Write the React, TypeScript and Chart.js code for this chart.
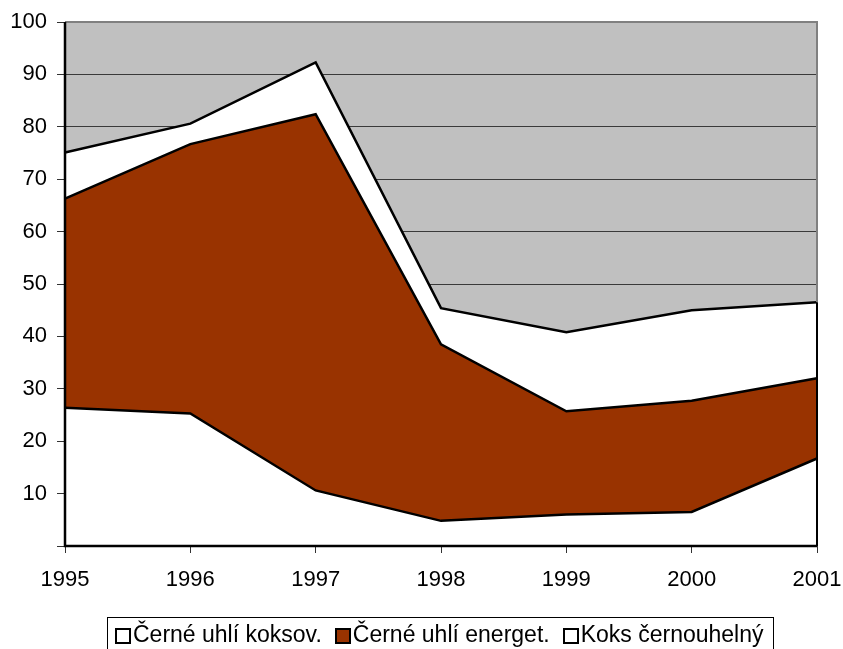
import React, { useEffect, useRef } from "react";
import { Chart, registerables } from "chart.js";
Chart.register(...registerables);

const years = ["1995", "1996", "1997", "1998", "1999", "2000", "2001"];
const koksov = [26.4, 25.3, 10.6, 4.8, 6.0, 6.5, 16.7];
const energet = [39.9, 51.4, 71.8, 33.7, 19.7, 21.2, 15.3];
const koks = [8.8, 3.9, 9.9, 6.9, 15.1, 17.3, 14.5];
const seriesNames = ["Černé uhlí koksov.", "Černé uhlí energet.", "Koks černouhelný"];
const seriesColors = ["#ffffff", "#993300", "#ffffff"];

const FONT = "'Liberation Sans', Arial, sans-serif";

const plotFrame = {
  id: "plotFrame",
  beforeDraw(chart: any) {
    const { ctx, chartArea: a } = chart;
    ctx.save();
    ctx.fillStyle = "#c0c0c0";
    ctx.fillRect(a.left, a.top, a.right - a.left, a.bottom - a.top);
    ctx.restore();
  },
  afterDatasetsDraw(chart: any) {
    const { ctx, chartArea: a } = chart;
    const y = chart.scales.y;
    const last = years.length - 1;
    const topLast = y.getPixelForValue(koksov[last] + energet[last] + koks[last]);
    ctx.save();
    ctx.lineWidth = 2;
    ctx.strokeStyle = "#808080";
    ctx.beginPath();
    ctx.moveTo(a.left, a.top);
    ctx.lineTo(a.right, a.top);
    ctx.lineTo(a.right, topLast);
    ctx.stroke();
    ctx.strokeStyle = "#000000";
    ctx.beginPath();
    ctx.moveTo(a.right, topLast);
    ctx.lineTo(a.right, a.bottom);
    ctx.stroke();
    ctx.lineWidth = 2.5;
    ctx.beginPath();
    ctx.moveTo(a.left, a.top);
    ctx.lineTo(a.left, a.bottom);
    ctx.lineTo(a.right, a.bottom);
    ctx.stroke();
    ctx.restore();
  },
};

export default function App() {
  const ref = useRef<HTMLCanvasElement>(null);
  useEffect(() => {
    if (!ref.current) return;
    const chart = new Chart(ref.current, {
      type: "line",
      data: {
        labels: years,
        datasets: [koksov, energet, koks].map((d, i) => ({
          label: seriesNames[i],
          data: d,
          backgroundColor: seriesColors[i],
          borderColor: "#000000",
          borderWidth: 2.5,
          pointRadius: 0,
          tension: 0,
          fill: i === 0 ? "origin" : "-1",
        })),
      },
      options: {
        animation: false,
        responsive: false,
        layout: { padding: { left: 0, top: 22, right: 26, bottom: 63 } },
        plugins: {
          legend: { display: false },
          tooltip: { enabled: false },
          filler: { drawTime: "beforeDatasetsDraw" },
        },
        scales: {
          x: {
            type: "category",
            offset: false,
            grid: { drawOnChartArea: false, drawTicks: true, tickLength: 7, tickColor: "#333", lineWidth: 1 },
            border: { display: false },
            ticks: { color: "#000", font: { family: FONT, size: 22 }, padding: 14, maxRotation: 0, autoSkip: false },
            afterFit: (s: any) => {
              s.height = 40;
              s.paddingLeft = 0;
              s.paddingRight = 0;
            },
          },
          y: {
            stacked: true,
            min: 0,
            max: 100,
            grid: { color: "#3a3a3a", lineWidth: 1, tickLength: 8, tickColor: "#333" },
            border: { display: false },
            ticks: {
              stepSize: 10,
              color: "#000",
              padding: 10,
              font: { family: FONT, size: 22 },
              callback: (v: any) => (v === 0 ? "" : String(v)),
            },
            afterFit: (s: any) => {
              s.width = 65;
              s.paddingTop = 0;
              s.paddingBottom = 0;
            },
          },
        },
      },
      plugins: [plotFrame],
    } as any);
    return () => chart.destroy();
  }, []);

  return (
    <div style={{ position: "absolute", left: 0, top: 0, width: 843, height: 649, background: "#fff", overflow: "hidden" }}>
      <canvas ref={ref} width={843} height={649} style={{ display: "block" }} />
      <div
        style={{
          position: "absolute",
          left: 107,
          top: 617,
          width: 667,
          height: 42,
          border: "1px solid #000",
          boxSizing: "border-box",
          display: "flex",
          alignItems: "flex-start",
          paddingLeft: 7,
          paddingTop: 2,
          fontFamily: FONT,
          fontSize: 23,
          lineHeight: "28px",
          color: "#000",
          whiteSpace: "nowrap",
        }}
      >
        {seriesNames.map((n, i) => (
          <span key={n} style={{ display: "flex", alignItems: "center", marginRight: 13 }}>
            <span
              style={{
                display: "inline-block",
                width: 16,
                height: 16,
                boxSizing: "border-box",
                border: "2px solid #000",
                background: seriesColors[i],
                marginRight: 2,
                marginTop: 4,
              }}
            />
            {n}
          </span>
        ))}
      </div>
    </div>
  );
}
